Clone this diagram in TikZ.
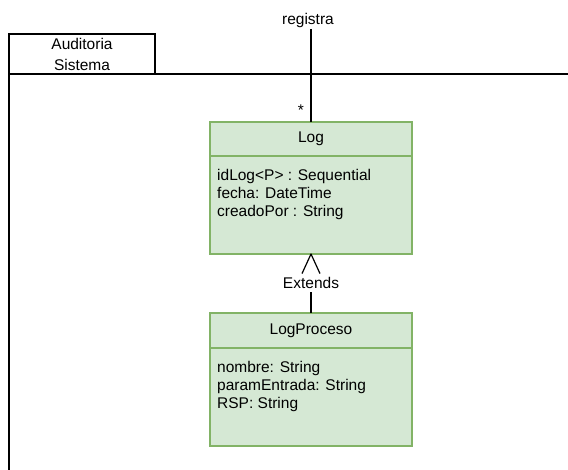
\documentclass[tikz,border=0pt]{standalone}
\usepackage{fontspec}
\setmainfont{Liberation Sans}
\usepackage{tikz}
\usetikzlibrary{arrows.meta}
\usetikzlibrary{positioning}
\usepackage{xcolor}
\definecolor{umlfill}{HTML}{D5E8D4}
\definecolor{umldraw}{HTML}{82B366}

\begin{document}
\begin{tikzpicture}[x=1pt,y=-1pt]
  \tikzset{every node/.style = {font=\fontsize{15.5}{18}\selectfont}}
  \tikzset{classhead/.style = {shape=rectangle,draw=umldraw,fill=umlfill,line width=1.2pt,minimum width=202pt,minimum height=34pt,inner sep=0pt,outer sep=0pt}}
    \tikzset{classbody/.style = {shape=rectangle,draw=umldraw,fill=umlfill,line width=1.2pt,minimum width=202pt,minimum height=98pt,inner sep=0pt,outer sep=0pt}}
  \tikzset{attrs/.style = {align=left,anchor=north west,inner sep=0pt}}
  \tikzset{pkgtab/.style = {shape=rectangle,draw,line width=1.2pt,minimum width=146pt,minimum height=40pt,inner sep=0pt,outer sep=0pt,align=center,font=\fontsize{15.5}{21}\selectfont}}
  \tikzset{assoc/.style = {draw,line width=1.2pt,line join=round}}

  \useasboundingbox (0,0) rectangle (568,470);

	% paquete
	\node[pkgtab] (tab) at (82,54) {Auditoria\\Sistema};
	\coordinate (framebot) at (9,470);
	\coordinate (frameend) at (568,74);
	\draw[line width=1.2pt] (framebot) -- (tab.south west) -- (frameend);

	% clases
	\node[classhead,anchor=north west] (loghead) at (210,122) {Log};
	\node[classbody,anchor=north] (logbody) at (loghead.south) {};
	\node[attrs] (logattr) at (217,169) {idLog<P> : Sequential\\fecha: DateTime\\creadoPor : String};

	\node[classhead,anchor=north west,minimum height=35pt] (prochead) at (210,313) {LogProceso};
	\node[classbody,anchor=north] (procbody) at (prochead.south) {};
	\node[attrs] (procattr) at (217,361) {nombre: String\\paramEntrada: String\\RSP: String};

	% relaciones
	\node[inner sep=0pt] (registra) at (308,20) {registra};
	\coordinate (regtop) at (311,29);
	\node[anchor=base,inner sep=0pt] (mult) at (301,116) {*};
	\node[inner sep=3.5pt] (ext) at (311,283) {Extends};

    \foreach \from/\to in {regtop/loghead,prochead/ext}
    \path[assoc](\from) edge (\to);

	\draw[assoc] ([xshift=-9pt]ext.north) -- (logbody.south) -- ([xshift=9pt]ext.north);

\end{tikzpicture}
\end{document}
